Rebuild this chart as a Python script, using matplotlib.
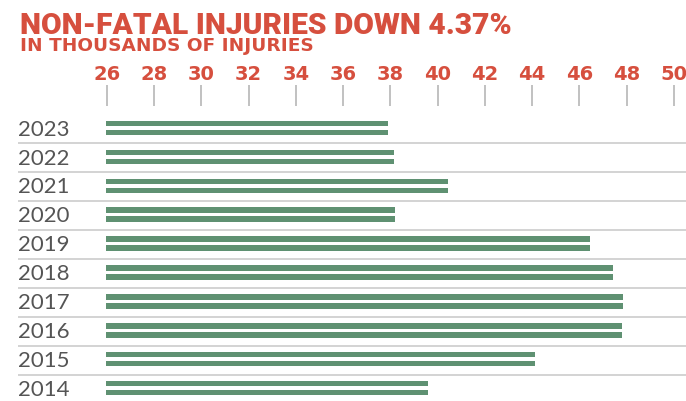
import matplotlib
matplotlib.use("Agg")
import matplotlib.pyplot as plt

# ---- data ----
years = ["2023", "2022", "2021", "2020", "2019", "2018", "2017", "2016", "2015", "2014"]
injuries = [37.9, 38.15, 40.45, 38.2, 46.45, 47.4, 47.85, 47.8, 44.1, 39.6]
ticks = list(range(26, 51, 2))

title = "NON-FATAL INJURIES DOWN 4.37%"
subtitle = "IN THOUSANDS OF INJURIES"

red = "#d64f3e"
green = "#5f9172"
grey_txt = "#555555"

W, H = 686, 402
fig = plt.figure(figsize=(W / 100, H / 100), dpi=100)

# axes covers the full width; x scale set so 26 -> 106.7px, 50 -> 674px
px_per_unit = (674 - 106.7) / 24
x0 = 26 - 106.7 / px_per_unit
x1 = 26 + (W - 106.7) / px_per_unit
top_px = 107
ax = fig.add_axes([0, 0, 1, 1 - top_px / H])
ax.set_xlim(x0, x1)
row_px = 28.96
ax.set_ylim((H - 128.7) / row_px, (top_px - 128.7) / row_px)

for s in ax.spines.values():
    s.set_visible(False)

ax.xaxis.tick_top()
ax.set_xticks(ticks)
ax.set_xticklabels([str(t) for t in ticks])
ax.tick_params(axis="x", length=15, width=1.1, color="#b0b0b0", pad=1.5,
               labelcolor=red, labelsize=14)
for lab in ax.get_xticklabels():
    lab.set_fontfamily("DejaVu Sans")
    lab.set_fontweight("bold")
ax.set_yticks([])

off = 4.5 / row_px
hgt = 5.2 / row_px
for i, (yr, v) in enumerate(zip(years, injuries)):
    for d in (-off, off):
        ax.barh(i + d, v - 25.95, left=25.95, height=hgt, color=green, linewidth=0)
    ax.text(x0 + 18 / px_per_unit, i + 0.03, yr, ha="left", va="center",
            fontsize=16, color=grey_txt, fontfamily="Lato", fontweight="normal")
    if i < len(years) - 1:
        ax.plot([x0 + 18 / px_per_unit, x1], [i + 0.535, i + 0.535],
                color="#d0d0d0", lw=1.3, solid_capstyle="butt")

fig.text(20 / W, 1 - 34.5 / H, title, ha="left", va="baseline", color=red,
         fontsize=21.5, fontfamily="Roboto", fontweight="black")
fig.text(20 / W, 1 - 51 / H, subtitle, ha="left", va="baseline", color=red,
         fontsize=13.3, fontfamily="DejaVu Sans", fontweight="bold")

fig.savefig("out.png", dpi=100)
